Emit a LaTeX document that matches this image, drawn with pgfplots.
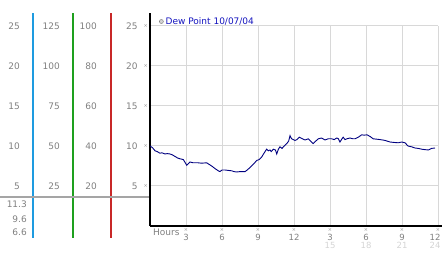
\documentclass[border=0pt]{standalone}
\usepackage{pgfplots}
\pgfplotsset{compat=1.18}
\usepackage{fontspec}
\setmainfont{DejaVu Sans}
\definecolor{txtgray}{RGB}{128,128,128}
\definecolor{ltgray}{RGB}{212,212,212}
\definecolor{gridgray}{RGB}{216,216,216}
\definecolor{mkgray}{RGB}{150,150,150}
\definecolor{navyline}{RGB}{0,0,128}
\definecolor{legblue}{RGB}{20,20,190}
\definecolor{vcyan}{RGB}{30,155,224}
\definecolor{vgreen}{RGB}{30,160,30}
\definecolor{vred}{RGB}{200,40,40}
\definecolor{sepgray}{RGB}{165,165,165}
\newcommand{\tk}{{\fontsize{5}{5}\selectfont\color{mkgray}×}}
\newcommand{\tkr}{\raisebox{1.5pt}{\tk}}
\begin{document}
\begin{tikzpicture}[x=1pt,y=1pt]
\useasboundingbox (0,0) rectangle (442,253);
\fill[vcyan] (32,15) rectangle (34,240);
\fill[vgreen] (72,15) rectangle (74,240);
\fill[vred] (110,15) rectangle (112,240);
\draw[sepgray, line width=2pt] (0,56) -- (149,56);
\foreach \v/\a/\b/\cc in {5/5/25/20,10/10/50/40,15/15/75/60,20/20/100/80,25/25/125/100} {
  \node[anchor=east, inner sep=0pt, text=txtgray, font=\fontsize{9}{9}\selectfont] at (20,{27+8*\v}) {\a};
  \node[anchor=east, inner sep=0pt, text=txtgray, font=\fontsize{9}{9}\selectfont] at (60,{27+8*\v}) {\b};
  \node[anchor=east, inner sep=0pt, text=txtgray, font=\fontsize{9}{9}\selectfont] at (97,{27+8*\v}) {\cc};
}
\node[anchor=east, inner sep=0pt, text=txtgray, font=\fontsize{9}{9}\selectfont] at (27,49) {11.3};
\node[anchor=east, inner sep=0pt, text=txtgray, font=\fontsize{9}{9}\selectfont] at (27,34) {9.6};
\node[anchor=east, inner sep=0pt, text=txtgray, font=\fontsize{9}{9}\selectfont] at (27,21) {6.6};
\node[anchor=base west, inner sep=0pt, text=txtgray, font=\fontsize{9}{9}\selectfont] at (153,17) {Hours};
\begin{axis}[
  at={(150pt,27pt)}, anchor=south west,
  scale only axis, width=288pt, height=200pt,
  xmin=0, xmax=24, ymin=0, ymax=25,
  axis lines=left,
  axis line style={-, line width=1.5pt, black},
  x axis line style={shorten >=-4pt},
  y axis line style={shorten >=-13pt},
  grid=major,
  major grid style={gridgray, line width=1pt},
  xtick={3,6,...,24}, ytick={5,10,...,25},
  major tick length=0pt,
  xticklabels={{\tk\\[1.5pt]3},{\tk\\[1.5pt]6},{\tk\\[1.5pt]9},{\tk\\[1.5pt]12},{\tk\\[1.5pt]3\\\textcolor{ltgray}{15}},{\tk\\[1.5pt]6\\\textcolor{ltgray}{18}},{\tk\\[1.5pt]9\\\textcolor{ltgray}{21}},{\tk\\[1.5pt]\hspace*{-6pt}12\\\hspace*{-6pt}\textcolor{ltgray}{24}}},
  yticklabels={{5\hspace{6pt}\tkr},{10\hspace{6pt}\tkr},{15\hspace{6pt}\tkr},{20\hspace{6pt}\tkr},{25\hspace{6pt}\tkr}},
  xticklabel style={align=center, inner sep=0pt, text=txtgray, font=\fontsize{8.5}{7.5}\selectfont, yshift=-2.5pt},
  yticklabel style={anchor=east, inner sep=0pt, xshift=-2pt, text=txtgray, font=\fontsize{9}{9}\selectfont},
  legend image code/.code={\draw[gray, fill=ltgray, line width=0.5pt] (2pt,0pt) circle (2pt);},
  legend style={at={(0.031,1.0225)}, anchor=west, draw=none, fill=none, inner sep=0pt,
    font=\fontsize{9}{9}\selectfont},
]
\addplot[navyline, line width=0.9pt] coordinates {
(0,10.0) (0.2,9.8) (0.42,9.4) (0.6,9.3) (0.83,9.1) (1.0,9.15) (1.25,9.0) (1.45,9.05) (1.67,9.0) (1.85,8.9) (2.08,8.7) (2.3,8.5) (2.5,8.4) (2.78,8.3) (3.06,7.6) (3.33,8.0) (3.6,7.9) (4.0,7.9) (4.3,7.85) (4.72,7.9) (5.14,7.5) (5.4,7.2) (5.69,6.9) (5.83,6.8) (6.0,7.0) (6.25,7.0) (6.5,6.95) (6.8,6.9) (7.0,6.8) (7.22,6.75) (7.5,6.8) (7.92,6.8) (8.1,7.0) (8.33,7.3) (8.6,7.7) (8.9,8.2) (9.1,8.3) (9.3,8.6) (9.5,9.1) (9.72,9.6) (9.85,9.4) (10.0,9.5) (10.1,9.3) (10.28,9.6) (10.45,9.5) (10.56,9.0) (10.7,9.6) (10.83,9.9) (11.0,9.7) (11.25,10.1) (11.4,10.3) (11.55,10.6) (11.67,11.3) (11.8,10.9) (11.95,10.8) (12.08,10.7) (12.25,10.8) (12.44,11.1) (12.7,10.9) (12.92,10.75) (13.19,10.9) (13.4,10.6) (13.6,10.3) (13.8,10.6) (14.03,10.9) (14.3,11.0) (14.58,10.75) (14.85,10.9) (15.14,10.9) (15.35,10.8) (15.56,11.0) (15.7,10.9) (15.83,10.5) (16.0,10.9) (16.1,11.1) (16.25,10.8) (16.4,10.9) (16.67,11.0) (16.9,10.9) (17.08,10.9) (17.36,11.1) (17.64,11.4) (17.85,11.35) (18.08,11.4) (18.33,11.2) (18.6,10.9) (18.9,10.85) (19.17,10.8) (19.58,10.7) (20.0,10.5) (20.3,10.45) (20.7,10.4) (20.97,10.5) (21.25,10.4) (21.5,10.0) (21.8,9.9) (22.08,9.75) (22.35,9.7) (22.64,9.6) (22.9,9.55) (23.19,9.5) (23.47,9.7) (23.75,9.75)
};
\addlegendentry{\textcolor{legblue}{Dew Point 10/07/04}}
\end{axis}
\end{tikzpicture}
\end{document}
